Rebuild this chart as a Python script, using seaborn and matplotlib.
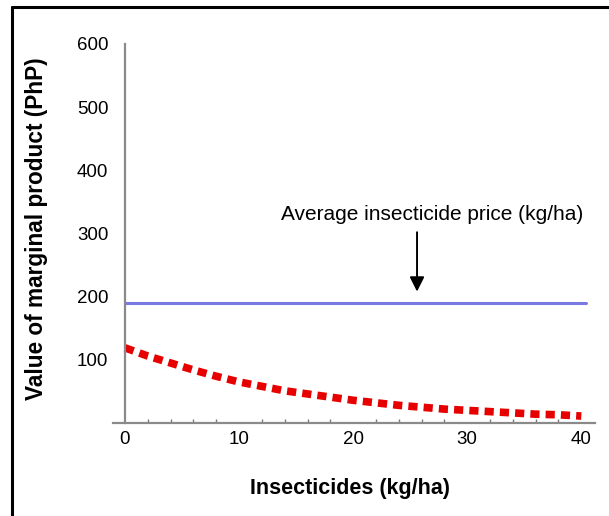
"""
Value of marginal product of insecticides vs. average insecticide price.
"""
import matplotlib.pyplot as plt
from matplotlib.lines import Line2D
from matplotlib.ticker import MultipleLocator
import pandas as pd
import seaborn as sns


insecticide_kg = [0, 2, 4, 6, 8, 10, 12, 14, 16, 18, 20,
                  22, 24, 26, 28, 30, 32, 34, 36, 38, 40]
vmp_php = [119, 106, 95, 84, 74, 65, 58, 51, 46, 41, 36,
           32, 28, 25, 22, 20, 18, 16, 14, 13, 11]
price_x = [0, 40.4]
price_php = [190, 190]
y_ticks = [100, 200, 300, 400, 500, 600]
x_ticks = [0, 10, 20, 30, 40]
annotation = "Average insecticide price (kg/ha)"


def _set_style():
    sns.set_style("white")
    plt.rcParams["font.family"] = ["Liberation Sans", "DejaVu Sans"]
    plt.rcParams["text.color"] = "black"
    plt.rcParams["axes.labelcolor"] = "black"
    plt.rcParams["xtick.labelcolor"] = "black"
    plt.rcParams["ytick.labelcolor"] = "black"


def _draw_border(fig):
    # only the top and left edges of the frame are visible in the original
    kw = dict(transform=fig.transFigure, color="black", linewidth=2.2)
    fig.add_artist(Line2D([12 / 609, 12 / 609], [0, 1 - 7 / 516], **kw))
    fig.add_artist(Line2D([12 / 609, 1], [1 - 7 / 516, 1 - 7 / 516], **kw))


def make_plot():
    curve = pd.DataFrame({"x": insecticide_kg, "y": vmp_php})
    price = pd.DataFrame({"x": price_x, "y": price_php})

    fig = plt.figure(figsize=(6.09, 5.16), dpi=100)
    ax = fig.add_axes([113 / 609, 93 / 516, 482 / 609, 379 / 516])

    sns.lineplot(data=price, x="x", y="y", ax=ax, color="#6c6ce0",
                 linewidth=2.2, alpha=0.9)
    sns.lineplot(data=curve, x="x", y="y", ax=ax, color="#e60000",
                 linewidth=5.5, dashes=False)
    ax.lines[-1].set_linestyle((0, (1.2, 0.8)))
    ax.lines[-1].set_dash_capstyle("butt")

    ax.set_xlim(-1.05, 41.2)
    ax.set_ylim(0, 600)
    for side in ["top", "right"]:
        ax.spines[side].set_visible(False)
    ax.spines["left"].set_position(("data", 0))
    for side in ["left", "bottom"]:
        ax.spines[side].set_color("#8a8a8a")
        ax.spines[side].set_linewidth(1.6)

    ax.set_yticks(y_ticks)
    ax.set_xticks(x_ticks)
    ax.xaxis.set_minor_locator(MultipleLocator(2))
    ax.tick_params(axis="y", direction="in", length=4, width=1.2,
                   color="#777777", labelsize=13.5, pad=12)
    ax.tick_params(axis="x", which="major", direction="in", length=5,
                   width=1.0, color="#777777", labelsize=13.5, pad=6)
    ax.tick_params(axis="x", which="minor", direction="in", length=3,
                   width=1.0, color="#777777", bottom=True)

    ax.set_xlabel("Insecticides (kg/ha)", fontsize=15.5, fontweight="bold")
    ax.xaxis.set_label_coords(0.492, -0.145)
    ax.set_ylabel("Value of marginal product (PhP)", fontsize=16.3,
                  fontweight="bold")
    ax.yaxis.set_label_coords(-0.134, 0.512)

    ax.annotate("", xy=(25.6, 208), xytext=(25.6, 302),
                arrowprops=dict(arrowstyle="-|>", color="black", lw=1.4,
                                mutation_scale=22, shrinkA=0, shrinkB=0))
    ax.text(40.2, 330, annotation, ha="right", va="center", fontsize=15)

    _draw_border(fig)
    return fig


def main():
    _set_style()
    fig = make_plot()
    fig.savefig("out.png", dpi=100)


if __name__ == "__main__":
    main()
